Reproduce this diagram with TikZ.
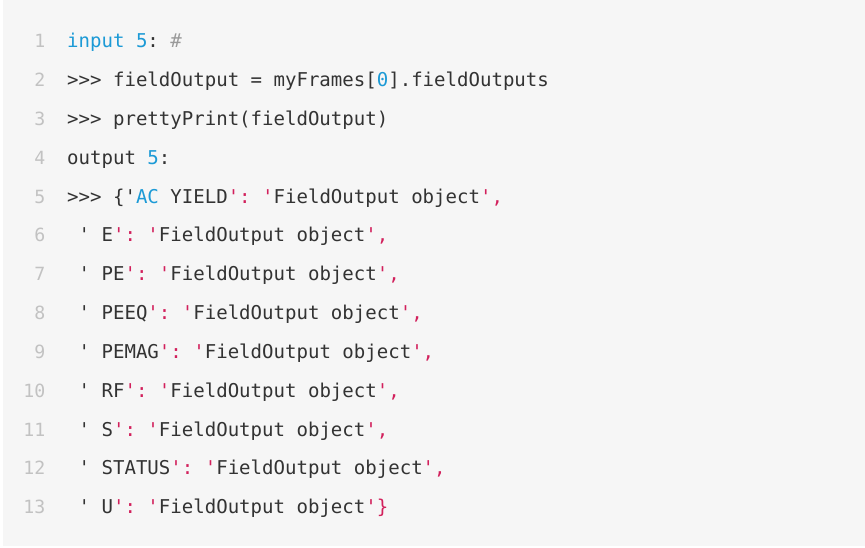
\documentclass[tikz,border=0pt]{standalone}
\usepackage{fontspec}
\setmonofont{DejaVu Sans Mono}
\definecolor{bgc}{HTML}{F6F6F6}
\definecolor{txt}{HTML}{333333}
\definecolor{cblue}{HTML}{1C9AD6}
\definecolor{cred}{HTML}{D2205C}
\definecolor{cgrey}{HTML}{9A9A9A}
\definecolor{lnum}{HTML}{C2C2C2}
\newcommand{\Bl}[1]{\textcolor{cblue}{#1}}
\newcommand{\Rd}[1]{\textcolor{cred}{#1}}
\newcommand{\Gy}[1]{\textcolor{cgrey}{#1}}
\begin{document}
\begin{tikzpicture}[x=1pt,y=-1pt,
  codeline/.style={anchor=base west,inner sep=0pt,text=txt,
    font=\ttfamily\fontsize{19.05}{20}\selectfont},
  numline/.style={anchor=base east,inner sep=0pt,text=lnum,
    font=\ttfamily\fontsize{18.2}{20}\selectfont}]
\useasboundingbox (0,0) rectangle (865,548);
\fill[white] (0,0) rectangle (865,548);
\fill[bgc] (2.5,0) rectangle (865,546);
\foreach \i in {1,...,13}{
  \node[numline] (n\i) at (45.5,{48+(\i-1)*38.8}) {\i};
}
\node[codeline] (l1) at (67,48) {\Bl{input} \Bl{5}:\ \Gy{\#}};
\node[codeline] (l2) at (67,86.8) {>>> fieldOutput = myFrames[\Bl{0}].fieldOutputs};
\node[codeline] (l3) at (67,125.6) {>>> prettyPrint(fieldOutput)};
\node[codeline] (l4) at (67,164.4) {output \Bl{5}:};
\node[codeline] (l5) at (67,203.2) {>>> \{'\Bl{AC} YIELD\Rd{': '}FieldOutput object\Rd{',}};
\node[codeline] (l6) at (67,242.0) {\ ' E\Rd{': '}FieldOutput object\Rd{',}};
\node[codeline] (l7) at (67,280.8) {\ ' PE\Rd{': '}FieldOutput object\Rd{',}};
\node[codeline] (l8) at (67,319.6) {\ ' PEEQ\Rd{': '}FieldOutput object\Rd{',}};
\node[codeline] (l9) at (67,358.4) {\ ' PEMAG\Rd{': '}FieldOutput object\Rd{',}};
\node[codeline] (l10) at (67,397.2) {\ ' RF\Rd{': '}FieldOutput object\Rd{',}};
\node[codeline] (l11) at (67,436.0) {\ ' S\Rd{': '}FieldOutput object\Rd{',}};
\node[codeline] (l12) at (67,474.8) {\ ' STATUS\Rd{': '}FieldOutput object\Rd{',}};
\node[codeline] (l13) at (67,513.6) {\ ' U\Rd{': '}FieldOutput object\Rd{'\}}};
\end{tikzpicture}
\end{document}
